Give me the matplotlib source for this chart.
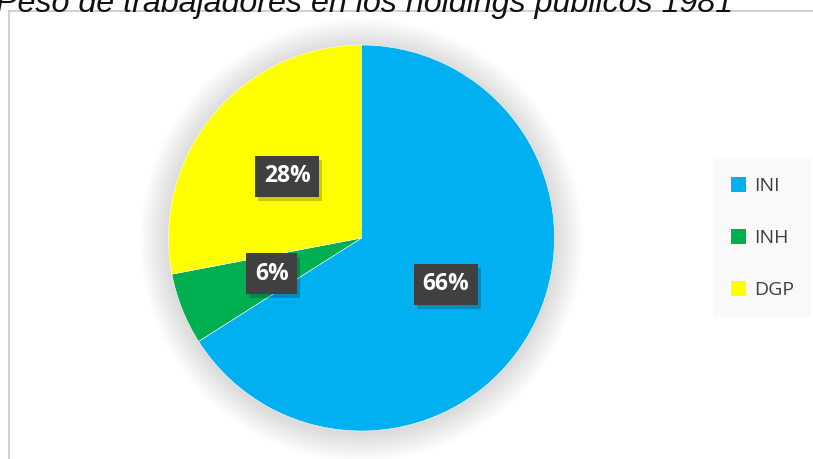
import matplotlib.pyplot as plt
from matplotlib.patches import Circle
from matplotlib.lines import Line2D

# data
labels = ["INI", "INH", "DGP"]
shares = [66, 6, 28]
colors = ["#00b0f0", "#00b050", "#ffff00"]
title = "Peso de trabajadores en los holdings públicos 1981"

W, H = 813, 459
fig = plt.figure(figsize=(W / 100, H / 100), dpi=100)

# outer chart frame (clipped at right/bottom)
fig.add_artist(Line2D([9 / W, 9 / W], [-0.1, 1 - 11 / H], color="#c8c8c8", lw=1.2))
fig.add_artist(Line2D([9 / W, 1.1], [1 - 11 / H, 1 - 11 / H], color="#c8c8c8", lw=1.2))

fig.text(-4 / W, 1 - 12 / H, title, fontsize=23.2, style="italic",
         family="Liberation Sans", va="baseline", ha="left", color="#111111")

cx, cy, r = 361.5, 238, 193
ax = fig.add_axes([(cx - r) / W, (H - cy - r) / H, 2 * r / W, 2 * r / H])
ax.axis("off")

# soft shadow around the pie
n = 36
for i in range(n):
    ax.add_patch(Circle((0, -0.01), 1.0 + 0.0042 * (n - i), color="black",
                        alpha=0.0035, lw=0, clip_on=False, zorder=0))

wedges, texts, autotexts = ax.pie(
    shares, colors=colors, startangle=90, counterclock=False,
    autopct="%1.0f%%", pctdistance=0.5, radius=1.0,
    wedgeprops=dict(linewidth=0.4, edgecolor="white"),
    textprops=dict(color="white", fontsize=16.5, fontweight="bold",
                   family="Open Sans"))
ax.set_xlim(-1, 1)
ax.set_ylim(-1, 1)
ax.set_aspect("equal")

for t in autotexts:
    x, y = t.get_position()
    # label shadow
    ax.text(x + 0.015, y - 0.02, t.get_text(), ha="center", va="center",
            fontsize=16.5, fontweight="bold", family="Open Sans", color="none",
            bbox=dict(boxstyle="square,pad=0.38", fc="black", ec="none", alpha=0.2),
            zorder=4)
    t.set_zorder(5)
    t.set_bbox(dict(boxstyle="square,pad=0.38", fc="#404040", ec="none"))

leg = fig.legend(wedges, labels, loc="center left",
                 bbox_to_anchor=(713 / W, 1 - 238 / H),
                 frameon=True, fancybox=False,
                 handlelength=0.8, handleheight=0.8, handletextpad=0.4,
                 labelspacing=1.75, borderpad=0.9, borderaxespad=0,
                 prop=dict(family="Open Sans", size=14))
leg.get_frame().set_facecolor("#f9f9f9")
leg.get_frame().set_edgecolor("none")
leg.get_frame().set_alpha(1)
for txt in leg.get_texts():
    txt.set_color("#404040")
for h in leg.legend_handles:
    h.set_edgecolor("none")

fig.savefig("out.png", dpi=100)
